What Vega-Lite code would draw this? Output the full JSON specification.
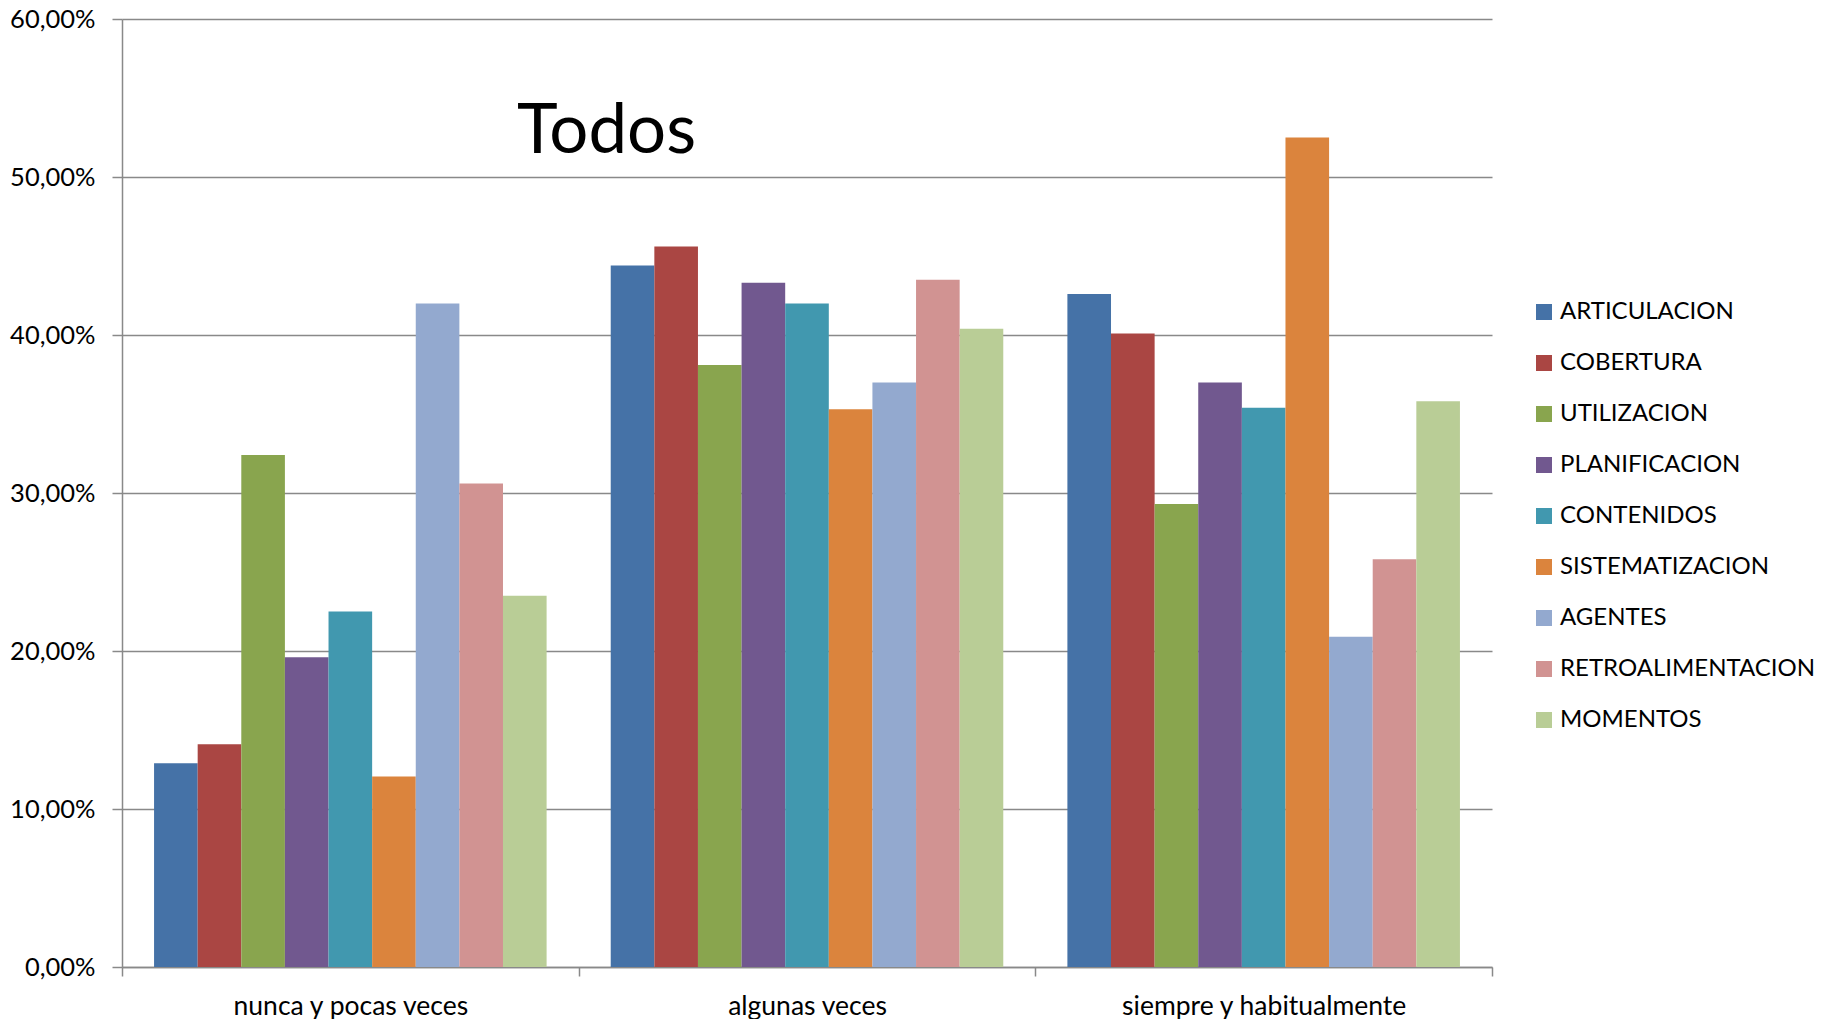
{
  "$schema": "https://vega.github.io/schema/vega-lite/v6.json",
  "width": 1370,
  "height": 948,
  "autosize": "none",
  "padding": {"left": 122, "top": 19, "right": 343, "bottom": 52},
  "background": "white",
  "config": {
    "locale": {"number": {"decimal": ",", "thousands": ".", "grouping": [3], "currency": ["", " €"]}},
    "view": {"stroke": null},
    "font": "Lato"
  },
  "title": {
    "text": "Todos",
    "anchor": "start",
    "frame": "group",
    "font": "Lato",
    "fontSize": 69,
    "fontWeight": "normal",
    "color": "#000000",
    "baseline": "alphabetic",
    "offset": 0,
    "dx": 395,
    "dy": 215
  },
  "data": {
    "values": [
      {"respuesta": "nunca y pocas veces", "serie": "ARTICULACION", "valor": 0.129},
      {"respuesta": "nunca y pocas veces", "serie": "COBERTURA", "valor": 0.141},
      {"respuesta": "nunca y pocas veces", "serie": "UTILIZACION", "valor": 0.324},
      {"respuesta": "nunca y pocas veces", "serie": "PLANIFICACION", "valor": 0.196},
      {"respuesta": "nunca y pocas veces", "serie": "CONTENIDOS", "valor": 0.225},
      {"respuesta": "nunca y pocas veces", "serie": "SISTEMATIZACION", "valor": 0.1205},
      {"respuesta": "nunca y pocas veces", "serie": "AGENTES", "valor": 0.42},
      {"respuesta": "nunca y pocas veces", "serie": "RETROALIMENTACION", "valor": 0.306},
      {"respuesta": "nunca y pocas veces", "serie": "MOMENTOS", "valor": 0.235},
      {"respuesta": "algunas veces", "serie": "ARTICULACION", "valor": 0.444},
      {"respuesta": "algunas veces", "serie": "COBERTURA", "valor": 0.456},
      {"respuesta": "algunas veces", "serie": "UTILIZACION", "valor": 0.381},
      {"respuesta": "algunas veces", "serie": "PLANIFICACION", "valor": 0.433},
      {"respuesta": "algunas veces", "serie": "CONTENIDOS", "valor": 0.42},
      {"respuesta": "algunas veces", "serie": "SISTEMATIZACION", "valor": 0.353},
      {"respuesta": "algunas veces", "serie": "AGENTES", "valor": 0.37},
      {"respuesta": "algunas veces", "serie": "RETROALIMENTACION", "valor": 0.435},
      {"respuesta": "algunas veces", "serie": "MOMENTOS", "valor": 0.404},
      {"respuesta": "siempre y habitualmente", "serie": "ARTICULACION", "valor": 0.426},
      {"respuesta": "siempre y habitualmente", "serie": "COBERTURA", "valor": 0.401},
      {"respuesta": "siempre y habitualmente", "serie": "UTILIZACION", "valor": 0.293},
      {"respuesta": "siempre y habitualmente", "serie": "PLANIFICACION", "valor": 0.37},
      {"respuesta": "siempre y habitualmente", "serie": "CONTENIDOS", "valor": 0.354},
      {"respuesta": "siempre y habitualmente", "serie": "SISTEMATIZACION", "valor": 0.525},
      {"respuesta": "siempre y habitualmente", "serie": "AGENTES", "valor": 0.209},
      {"respuesta": "siempre y habitualmente", "serie": "RETROALIMENTACION", "valor": 0.258},
      {"respuesta": "siempre y habitualmente", "serie": "MOMENTOS", "valor": 0.358}
    ]
  },
  "mark": {"type": "bar"},
  "encoding": {
    "x": {
      "field": "respuesta",
      "type": "nominal",
      "sort": ["nunca y pocas veces", "algunas veces", "siempre y habitualmente"],
      "scale": {"paddingInner": 0, "paddingOuter": 0},
      "axis": {
        "title": null,
        "labelAngle": 0,
        "tickBand": "extent",
        "domainColor": "#898989",
        "domainWidth": 1.5,
        "tickColor": "#898989",
        "tickWidth": 1.5,
        "tickSize": 9,
        "labelPadding": 17,
        "labelFont": "Lato",
        "labelFontSize": 26.5,
        "labelColor": "#000000",
        "labelLimit": 450
      }
    },
    "xOffset": {
      "field": "serie",
      "type": "nominal",
      "sort": ["ARTICULACION", "COBERTURA", "UTILIZACION", "PLANIFICACION", "CONTENIDOS", "SISTEMATIZACION", "AGENTES", "RETROALIMENTACION", "MOMENTOS"],
      "scale": {"paddingInner": 0, "paddingOuter": 0.735}
    },
    "y": {
      "field": "valor",
      "type": "quantitative",
      "scale": {"domain": [0, 0.6], "nice": false},
      "axis": {
        "title": null,
        "format": ".2%",
        "values": [0, 0.1, 0.2, 0.3, 0.4, 0.5, 0.6],
        "grid": true,
        "gridColor": "#898989",
        "gridWidth": 1.5,
        "domainColor": "#898989",
        "domainWidth": 1.5,
        "tickColor": "#898989",
        "tickWidth": 1.5,
        "tickSize": 10,
        "labelPadding": 17,
        "labelFont": "Lato",
        "labelFontSize": 25.5,
        "labelColor": "#000000"
      }
    },
    "color": {
      "field": "serie",
      "type": "nominal",
      "sort": ["ARTICULACION", "COBERTURA", "UTILIZACION", "PLANIFICACION", "CONTENIDOS", "SISTEMATIZACION", "AGENTES", "RETROALIMENTACION", "MOMENTOS"],
      "scale": {
        "domain": ["ARTICULACION", "COBERTURA", "UTILIZACION", "PLANIFICACION", "CONTENIDOS", "SISTEMATIZACION", "AGENTES", "RETROALIMENTACION", "MOMENTOS"],
        "range": ["#4572A7", "#AA4643", "#89A54E", "#71588F", "#4198AF", "#DB843D", "#93A9CF", "#D19392", "#B9CD96"]
      },
      "legend": {
        "title": null,
        "orient": "none",
        "legendX": 1410,
        "legendY": 281,
        "padding": 0,
        "symbolType": "square",
        "symbolSize": 256,
        "symbolStrokeWidth": 0,
        "labelFont": "Lato",
        "labelFontSize": 24,
        "labelColor": "#000000",
        "labelOffset": 4,
        "rowPadding": 27,
        "labelLimit": 400
      }
    }
  }
}
